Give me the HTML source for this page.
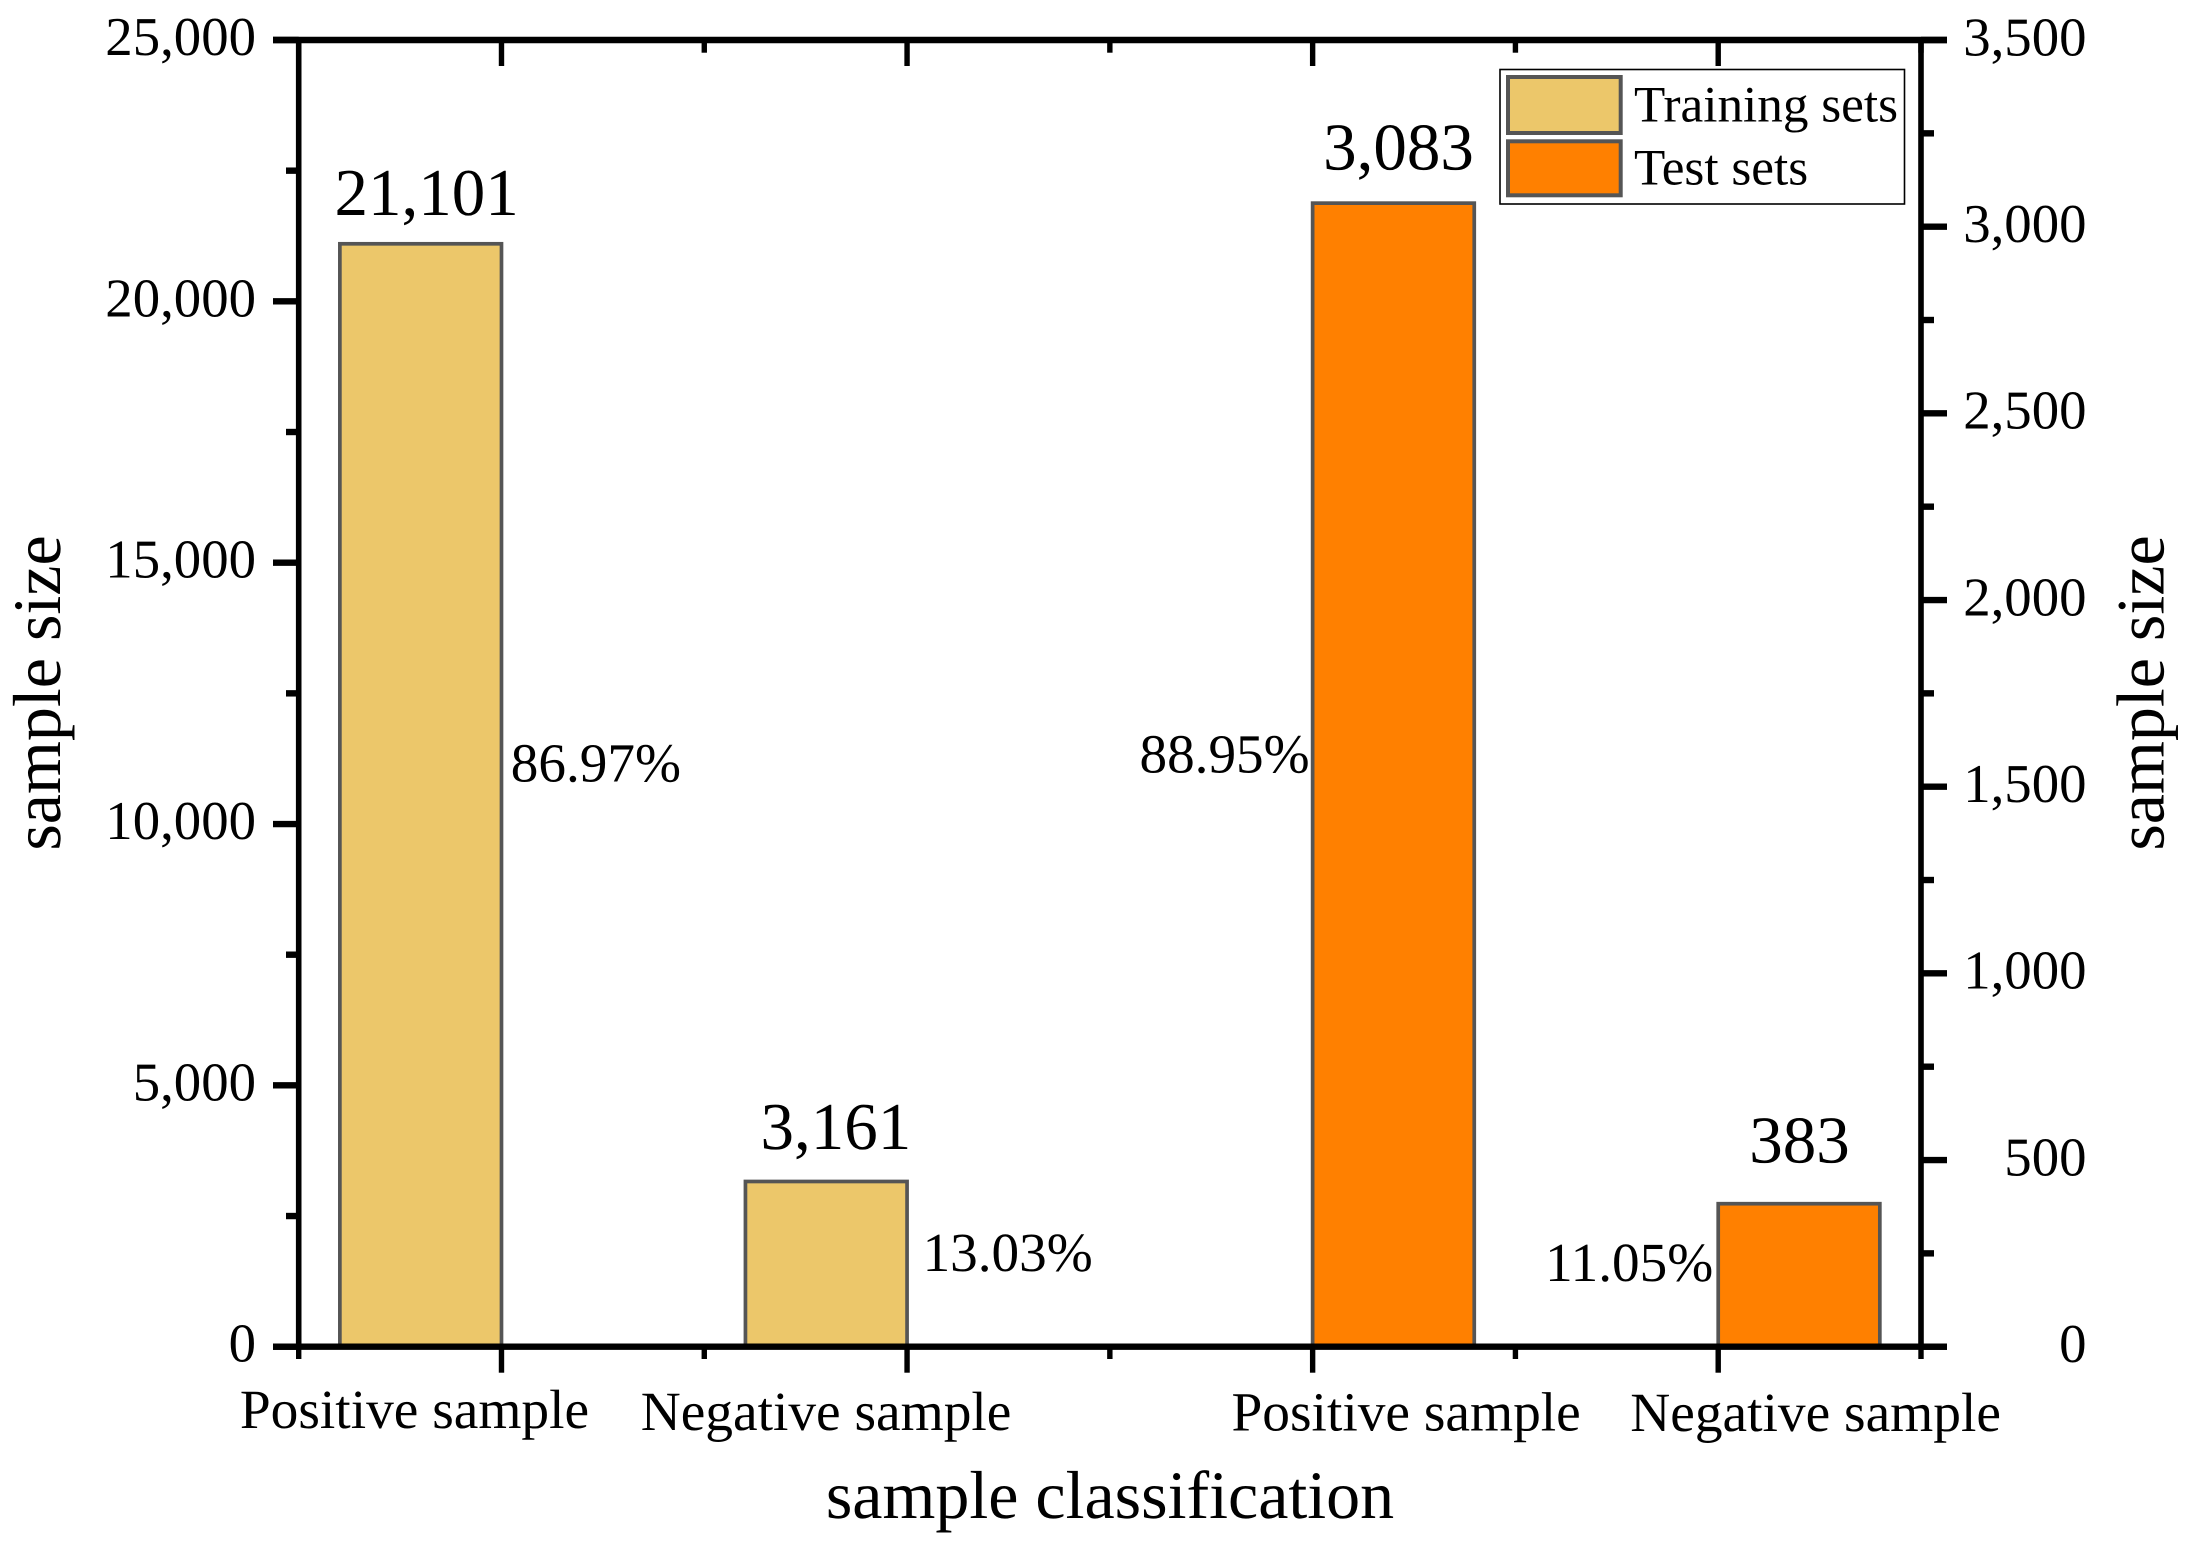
<!DOCTYPE html>
<html lang="en">
<head>
<meta charset="utf-8">
<title>Sample size by classification</title>
<style>
  html, body { margin: 0; padding: 0; background: #ffffff; }
  svg { display: block; }
  text { font-family: "Liberation Serif", "Times New Roman", serif; fill: #000000; text-rendering: geometricPrecision; }
</style>
</head>
<body>
<svg id="chart" xmlns="http://www.w3.org/2000/svg" width="2193" height="1548" viewBox="0 0 2193 1548">
  <rect x="0" y="0" width="2193" height="1548" fill="#ffffff"/>
  <g id="bars"></g>
  <g id="axes"></g>
  <g id="labels"></g>

  <text x="60" y="693" font-size="68" text-anchor="middle" transform="rotate(-90 60 693)">sample size</text>
  <text x="2163.7" y="693" font-size="68" text-anchor="middle" transform="rotate(-90 2163.7 693)">sample size</text>
  <text x="1110" y="1518" font-size="68" text-anchor="middle">sample classification</text>

  <g>
    <rect x="1500" y="69.5" width="404.5" height="134.5" fill="#ffffff" stroke="#000000" stroke-width="1.6"/>
    <rect x="1508" y="77" width="112.7" height="56" fill="#ECC76A" stroke="#555555" stroke-width="4"/>
    <text x="1634" y="121.7" font-size="51.2">Training sets</text>
    <rect x="1508" y="141.3" width="112.7" height="54" fill="#FF8000" stroke="#555555" stroke-width="4"/>
    <text x="1634" y="184.3" font-size="51.2">Test sets</text>
  </g>
</svg>
<script>
// ---- chart data ----
const categories = ["Positive sample", "Negative sample", "Positive sample", "Negative sample"];
const trainingValues = [21101, 3161, null, null];
// Third test bar is drawn at the height it has in the picture (its printed label says 3,083).
const testValues = [null, null, 3063, 383];
const valueLabels = ["21,101", "3,161", "3,083", "383"];
const percentLabels = ["86.97%", "13.03%", "88.95%", "11.05%"];
const leftTicks = [0, 5000, 10000, 15000, 20000, 25000];
const leftTickLabels = ["0", "5,000", "10,000", "15,000", "20,000", "25,000"];
const rightTicks = [0, 500, 1000, 1500, 2000, 2500, 3000, 3500];
const rightTickLabels = ["0", "500", "1,000", "1,500", "2,000", "2,500", "3,000", "3,500"];

// ---- layout ----
const SVG_NS = "http://www.w3.org/2000/svg";
const plot = { left: 298.7, right: 1921, top: 40, bottom: 1346.7 };
const leftMax = 25000;
const rightMax = 3500;
const halfCategory = (plot.right - plot.left) / 8;
const barWidth = halfCategory * 0.797;

function yLeft(v) { return plot.bottom - v / leftMax * (plot.bottom - plot.top); }
function yRight(v) { return plot.bottom - v / rightMax * (plot.bottom - plot.top); }
function xCategory(i) { return plot.left + (2 * i + 1) * halfCategory; }
function xTraining(i) { return xCategory(i) - barWidth / 2; }
function xTest(i) { return xCategory(i) + barWidth / 2; }

function make(tag, attrs, parent) {
  const el = document.createElementNS(SVG_NS, tag);
  for (const k in attrs) el.setAttribute(k, attrs[k]);
  parent.appendChild(el);
  return el;
}
function slug(s) { return s.toLowerCase().replace(/[^a-z0-9]+/g, "-"); }

const barsG = document.getElementById("bars");
const axesG = document.getElementById("axes");
const labelsG = document.getElementById("labels");

// ---- bars ----
function drawBar(value, cx, yScale, fill, name) {
  const top = yScale(value);
  const r = make("rect", { x: cx - barWidth / 2, y: top, width: barWidth, height: plot.bottom - top, fill: fill, stroke: "#555555", "stroke-width": 3.7 }, barsG);
  
  
}
trainingValues.forEach(function (v, i) {
  if (v !== null) drawBar(v, xTraining(i), yLeft, "#ECC76A", "bar-training-" + slug(categories[i]));
});
testValues.forEach(function (v, i) {
  if (v !== null) drawBar(v, xTest(i), yRight, "#FF8000", "bar-test-" + slug(categories[i]));
});

// ---- axes ----
function line(x1, y1, x2, y2, w, name) {
  const l = make("line", { x1: x1, y1: y1, x2: x2, y2: y2, stroke: "#000000", "stroke-width": w }, axesG);
  
  
}
line(273, plot.top, 1947, plot.top, 6.4, "top-axis-line");
line(273, plot.bottom, 1947, plot.bottom, 6.4, "bottom-axis-line");
line(plot.left, plot.top, plot.left, plot.bottom, 5.6, "left-axis-line");
line(plot.right, plot.top, plot.right, plot.bottom, 5.6, "right-axis-line");

leftTicks.forEach(function (v, i) {
  const y = yLeft(v);
  line(273, y, plot.left, y, 6.4, "left-major-tick");
  const t = make("text", { x: 256, y: y + 15, "font-size": 54.8, "text-anchor": "end" }, axesG);
  t.textContent = leftTickLabels[i];
  
  
  if (i < leftTicks.length - 1) {
    const my = yLeft((v + leftTicks[i + 1]) / 2);
    line(286, my, plot.left, my, 6.4, "left-minor-tick");
  }
});
rightTicks.forEach(function (v, i) {
  const y = yRight(v);
  line(plot.right, y, 1947, y, 6.4, "right-major-tick");
  const t = make("text", { x: 2086.5, y: y + 15.3, "font-size": 54.8, "text-anchor": "end" }, axesG);
  t.textContent = rightTickLabels[i];
  
  
  if (i < rightTicks.length - 1) {
    const my = yRight((v + rightTicks[i + 1]) / 2);
    line(plot.right, my, 1934, my, 6.4, "right-minor-tick");
  }
});
for (let k = 0; k <= 8; k++) {
  const x = plot.left + k * halfCategory;
  const major = k % 2 === 1;
  line(x, plot.bottom, x, major ? 1372.7 : 1359, 5.4, major ? "bottom-major-tick" : "bottom-minor-tick");
  line(x, plot.top, x, major ? 66 : 52.7, 5.4, major ? "top-major-tick" : "top-minor-tick");
}

// ---- category labels (hand-placed offsets from the category position, as in the figure) ----
const catNudgeX = [-87, -81, 93.5, 97.4];
const catBaseline = [1428, 1430, 1430.7, 1431];
categories.forEach(function (c, i) {
  const t = make("text", { x: xCategory(i) + catNudgeX[i], y: catBaseline[i], "font-size": 55.4, "text-anchor": "middle" }, axesG);
  t.textContent = c;
  
  
});

// ---- value labels above the bars ----
const valueNudgeX = [5.9, 9.6, 5.0, 0.5];
const valueGap = [29, 32.5, 33.7, 41];
valueLabels.forEach(function (s, i) {
  const isTraining = trainingValues[i] !== null;
  const cx = isTraining ? xTraining(i) : xTest(i);
  const top = isTraining ? yLeft(trainingValues[i]) : yRight(testValues[i]);
  const t = make("text", { x: cx + valueNudgeX[i], y: top - valueGap[i], "font-size": 67, "text-anchor": "middle" }, labelsG);
  t.textContent = s;
  
  
});

// ---- percentage labels beside the bars ----
const pctAnchor = ["start", "start", "end", "end"];
const pctGapX = [9.3, 15.5, 3, 5];
const pctBaseline = [781.7, 1271, 772.7, 1281];
percentLabels.forEach(function (s, i) {
  const isTraining = trainingValues[i] !== null;
  const x = isTraining ? xCategory(i) + pctGapX[i] : xCategory(i) - pctGapX[i];
  const t = make("text", { x: x, y: pctBaseline[i], "font-size": 55.2, "text-anchor": pctAnchor[i] }, labelsG);
  t.textContent = s;
  
  
});
</script>
</body>
</html>
